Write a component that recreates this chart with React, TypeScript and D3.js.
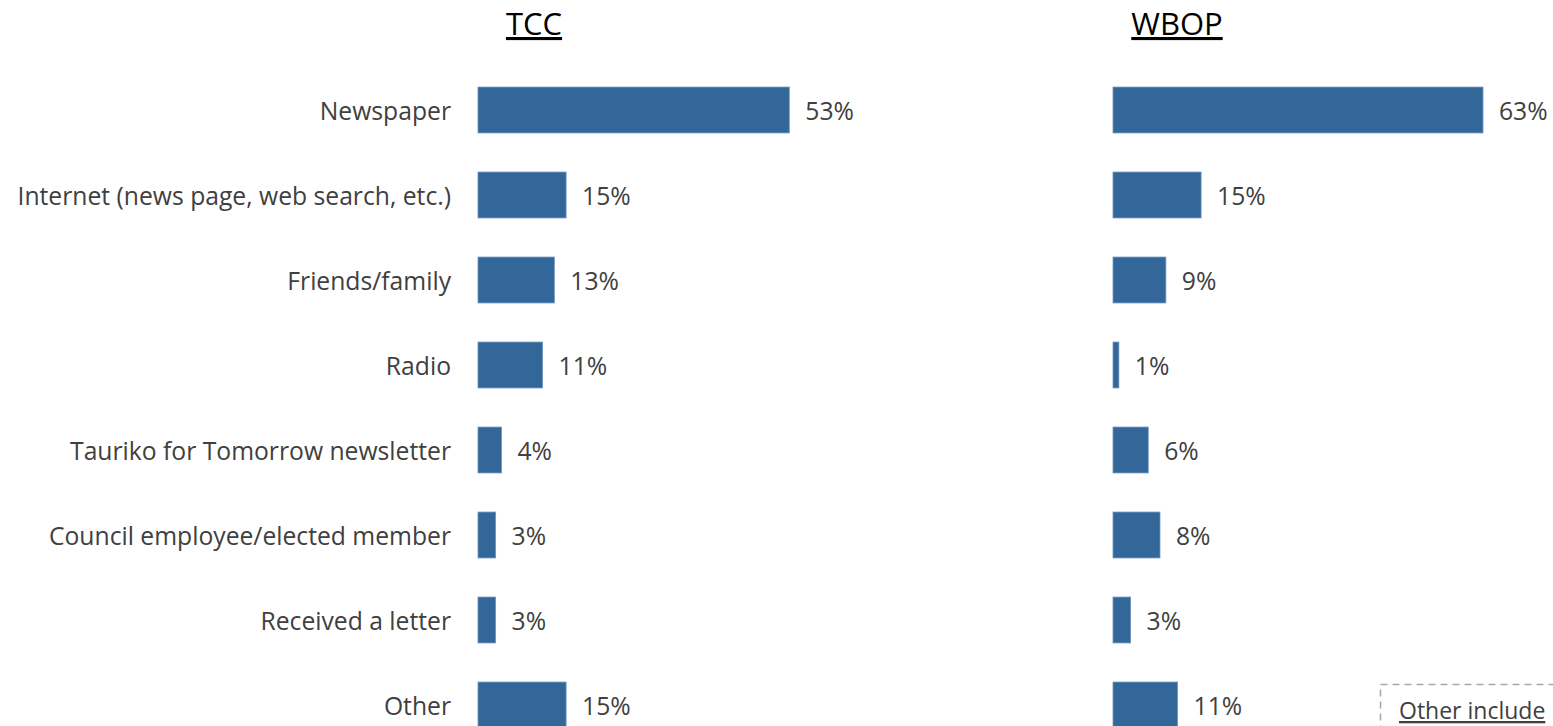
import React from "react";
import * as d3 from "d3";

const categories = [
  "Newspaper",
  "Internet (news page, web search, etc.)",
  "Friends/family",
  "Radio",
  "Tauriko for Tomorrow newsletter",
  "Council employee/elected member",
  "Received a letter",
  "Other",
];
const tccValues = [53, 15, 13, 11, 4, 3, 3, 15];
const wbopValues = [63, 15, 9, 1, 6, 8, 3, 11];
const panelTitles = ["TCC", "WBOP"];

const W = 1553;
const H = 726;
const FONT = "'Open Sans', sans-serif";
const BAR = "#336699";
const FS = 24.7;

export default function App() {
  const y = d3
    .scaleBand<string>()
    .domain(categories)
    .range([67.5, 747.5])
    .paddingInner(0.46)
    .paddingOuter(0.23);
  const x = d3.scaleLinear().domain([0, 63]).range([0, 370]);
  const panels = [
    { title: panelTitles[0], values: tccValues, x0: 478, titleX: 534 },
    { title: panelTitles[1], values: wbopValues, x0: 1113, titleX: 1177 },
  ];
  return (
    <svg
      width={W}
      height={H}
      style={{ position: "absolute", left: 0, top: 0, background: "#fff" }}
      fontFamily={FONT}
    >
      {categories.map((c) => (
        <text
          key={c}
          x={451}
          y={(y(c) as number) + y.bandwidth() / 2}
          textAnchor="end"
          dominantBaseline="central"
          fontSize={FS}
          fill="#404040"
        >
          {c}
        </text>
      ))}
      {panels.map((p) => (
        <g key={p.title}>
          <text
            x={p.titleX}
            y={35}
            textAnchor="middle"
            fontSize={31}
            fill="#000"
            textDecoration="underline"
          >
            {p.title}
          </text>
          {categories.map((c, i) => {
            const v = p.values[i];
            const yy = y(c) as number;
            return (
              <g key={c}>
                <rect
                  x={p.x0}
                  y={yy}
                  width={x(v)}
                  height={y.bandwidth()}
                  fill={BAR}
                  stroke="#6f93bf"
                  strokeWidth={0.8}
                />
                <text
                  x={p.x0 + x(v) + 16}
                  y={yy + y.bandwidth() / 2}
                  dominantBaseline="central"
                  fontSize={FS}
                  fill="#404040"
                >
                  {v}%
                </text>
              </g>
            );
          })}
        </g>
      ))}
      <rect
        x={1380.5}
        y={684.5}
        width={200}
        height={100}
        fill="none"
        stroke="#a6a6a6"
        strokeWidth={1.5}
        strokeDasharray="7,5"
      />
      <text x={1399} y={719} fontSize={23} fill="#404040" textDecoration="underline">
        Other include
      </text>
    </svg>
  );
}
